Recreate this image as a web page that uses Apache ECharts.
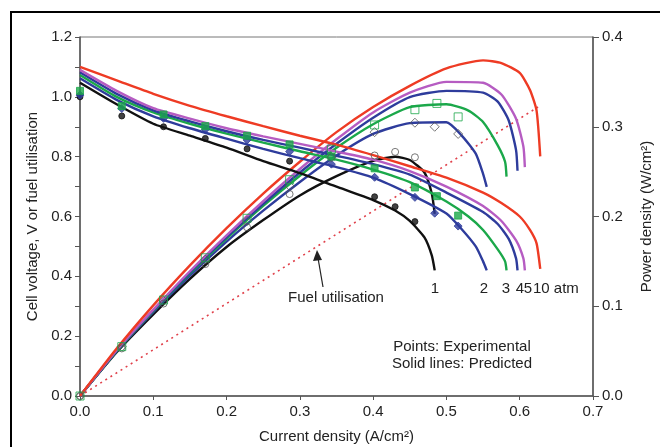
<!DOCTYPE html>
<html>
<head>
<meta charset="utf-8">
<title>Cell voltage / power density vs current density</title>
<style>
html, body { margin: 0; padding: 0; background: #fff; }
#myChart { width: 660px; height: 447px; }
</style>
</head>
<body>
<div id="myChart"></div>
<script src="https://cdn.jsdelivr.net/npm/echarts@6.0.0/dist/echarts.min.js"></script>
<script>
  // 预测曲线 (solid lines)  x: current density A/cm2
  var x1 = [0, 0.05, 0.1, 0.15, 0.2, 0.25, 0.3, 0.35, 0.4, 0.43, 0.45, 0.47, 0.48, 0.484]
  var v1 = [1.047, 0.975, 0.91, 0.87, 0.83, 0.785, 0.745, 0.70, 0.655, 0.62, 0.585, 0.53, 0.47, 0.42]
  var p1 = [0, 0.0488, 0.091, 0.1305, 0.166, 0.196, 0.2235, 0.245, 0.262, 0.2666, 0.263, 0.249, 0.2256, 0.203]

  var x2 = [0, 0.05, 0.1, 0.15, 0.2, 0.25, 0.3, 0.35, 0.4, 0.45, 0.5, 0.52, 0.54, 0.55, 0.555]
  var v2 = [1.062, 0.99, 0.935, 0.895, 0.86, 0.826, 0.795, 0.765, 0.73, 0.675, 0.61, 0.56, 0.5, 0.45, 0.42]
  var p2 = [0, 0.0495, 0.0935, 0.134, 0.172, 0.2065, 0.2385, 0.268, 0.292, 0.304, 0.305, 0.291, 0.27, 0.2475, 0.233]

  var x3 = [0, 0.05, 0.1, 0.15, 0.2, 0.25, 0.3, 0.35, 0.4, 0.45, 0.5, 0.53, 0.55, 0.57, 0.58, 0.582]
  var v3 = [1.073, 1.0, 0.948, 0.91, 0.877, 0.847, 0.818, 0.79, 0.757, 0.715, 0.65, 0.6, 0.555, 0.49, 0.45, 0.42]
  var p3 = [0, 0.05, 0.0948, 0.1365, 0.1754, 0.2118, 0.2454, 0.2765, 0.3028, 0.3218, 0.325, 0.318, 0.3053, 0.2793, 0.261, 0.2444]

  var x4 = [0, 0.05, 0.1, 0.15, 0.2, 0.25, 0.3, 0.35, 0.4, 0.45, 0.5, 0.55, 0.57, 0.585, 0.595, 0.597]
  var v4 = [1.082, 1.01, 0.955, 0.918, 0.885, 0.856, 0.83, 0.803, 0.775, 0.74, 0.68, 0.615, 0.575, 0.525, 0.46, 0.42]
  var p4 = [0, 0.0505, 0.0955, 0.1377, 0.177, 0.214, 0.249, 0.281, 0.31, 0.333, 0.34, 0.338, 0.328, 0.307, 0.274, 0.251]

  var x5 = [0, 0.05, 0.1, 0.15, 0.2, 0.25, 0.3, 0.35, 0.4, 0.45, 0.5, 0.55, 0.575, 0.595, 0.605, 0.607]
  var v5 = [1.09, 1.02, 0.962, 0.927, 0.895, 0.868, 0.843, 0.817, 0.79, 0.752, 0.70, 0.635, 0.585, 0.52, 0.46, 0.42]
  var p5 = [0, 0.051, 0.0962, 0.139, 0.179, 0.217, 0.2529, 0.286, 0.316, 0.338, 0.35, 0.349, 0.336, 0.309, 0.278, 0.255]

  var x10 = [0, 0.05, 0.1, 0.15, 0.2, 0.25, 0.3, 0.35, 0.4, 0.45, 0.5, 0.55, 0.575, 0.6, 0.614, 0.623, 0.628]
  var v10 = [1.10, 1.055, 1.01, 0.97, 0.935, 0.902, 0.87, 0.84, 0.805, 0.768, 0.73, 0.68, 0.645, 0.6, 0.555, 0.51, 0.425]
  var p10 = [0, 0.0528, 0.101, 0.1455, 0.187, 0.2255, 0.261, 0.294, 0.322, 0.3456, 0.365, 0.374, 0.371, 0.36, 0.341, 0.318, 0.267]

  // 燃料利用率 (dotted)
  var fuelX = [0, 0.625]
  var fuelY = [0, 0.966]

  // 实验点 (points)
  var ex1 = [0, 0.057, 0.114, 0.171, 0.228, 0.286, 0.402, 0.43, 0.457]
  var ev1 = [1.0, 0.936, 0.90, 0.861, 0.826, 0.785, 0.666, 0.633, 0.583]
  var ep1 = [0, 0.053, 0.103, 0.147, 0.188, 0.225, 0.268, 0.272, 0.266]

  var ex2 = [0, 0.057, 0.114, 0.171, 0.228, 0.286, 0.343, 0.402, 0.457, 0.484, 0.516]
  var ev2 = [1.006, 0.961, 0.928, 0.891, 0.856, 0.817, 0.775, 0.731, 0.664, 0.611, 0.568]
  var ep2 = [0, 0.055, 0.106, 0.152, 0.195, 0.234, 0.266, 0.294, 0.3045, 0.30, 0.292]

  var ex3 = [0, 0.057, 0.114, 0.171, 0.228, 0.286, 0.343, 0.402, 0.457, 0.487, 0.516]
  var ev3 = [1.02, 0.969, 0.941, 0.902, 0.87, 0.841, 0.80, 0.761, 0.697, 0.668, 0.603]
  var ep3 = [0, 0.055, 0.107, 0.154, 0.198, 0.241, 0.275, 0.302, 0.319, 0.326, 0.311]

  var leftTicks = [0, 0.2, 0.4, 0.6, 0.8, 1.0, 1.2]

  var RED = '#ee3b24'
  var MAG = '#b65cc2'
  var BLUE = '#2e3c9c'
  var GREEN = '#1ba84a'
  var BLACK = '#111111'
  var FONT = '"Liberation Sans", Arial, sans-serif'

  function pairs (xs, ys) {
    return xs.map(function (x, i) { return [x, ys[i]] })
  }

  function curve (xs, ys, color, axis) {
    return {
      type: 'line',
      yAxisIndex: axis,
      data: pairs(xs, ys),
      showSymbol: false,
      smooth: 0.2,
      lineStyle: { color: color, width: 2.4 },
      z: 2
    }
  }

  function points (xs, ys, axis, symbol, size, fill, border) {
    return {
      type: 'scatter',
      yAxisIndex: axis,
      data: pairs(xs, ys),
      symbol: symbol,
      symbolSize: size,
      itemStyle: { color: fill, borderColor: border, borderWidth: 1 },
      z: 5
    }
  }

  var series = [
    // 功率曲线 right axis
    curve(x1, p1, BLACK, 1),
    curve(x2, p2, BLUE, 1),
    curve(x3, p3, GREEN, 1),
    curve(x4, p4, BLUE, 1),
    curve(x5, p5, MAG, 1),
    curve(x10, p10, RED, 1),
    // 电压曲线 left axis
    curve(x1, v1, BLACK, 0),
    curve(x2, v2, BLUE, 0),
    curve(x3, v3, GREEN, 0),
    curve(x4, v4, BLUE, 0),
    curve(x5, v5, MAG, 0),
    curve(x10, v10, RED, 0),
    {
      type: 'line',
      yAxisIndex: 0,
      data: pairs(fuelX, fuelY),
      showSymbol: false,
      lineStyle: { color: '#e0404a', width: 1.6, type: [2, 4] },
      z: 1
    },
    points(ex1, ev1, 0, 'circle', 6, BLACK, BLACK),
    points(ex2, ev2, 0, 'diamond', 8, BLUE, BLUE),
    points(ex3, ev3, 0, 'rect', 7, GREEN, GREEN),
    points(ex1, ep1, 1, 'circle', 7, 'rgba(255,255,255,0)', '#555'),
    points(ex2, ep2, 1, 'diamond', 9, 'rgba(255,255,255,0)', '#555'),
    points(ex3, ep3, 1, 'rect', 8, 'rgba(255,255,255,0)', GREEN)
  ]

  var txt = { fill: '#222', fontSize: 15, fontFamily: FONT }
  function label (text, x, y, align) {
    return {
      type: 'text', x: x, y: y, z: 10,
      style: Object.assign({ text: text, align: align || 'center', verticalAlign: 'middle' }, txt)
    }
  }

  var option = {
    animation: false,
    backgroundColor: '#fff',
    grid: {
      left: 80, right: 67, top: 37, bottom: 51,
      outerBoundsMode: 'none', containLabel: false,
      show: true, borderColor: '#777', borderWidth: 1
    },
    xAxis: {
      type: 'value', min: 0, max: 0.7, interval: 0.1,
      name: 'Current density (A/cm²)', nameLocation: 'middle', nameGap: 33,
      nameTextStyle: { color: '#222', fontSize: 15, fontFamily: FONT },
      axisLine: { lineStyle: { color: '#555', width: 1.5 } },
      axisTick: { length: 4, lineStyle: { color: '#555' } },
      axisLabel: { color: '#222', fontSize: 15, fontFamily: FONT, margin: 8, formatter: function (v) { return v.toFixed(1) } },
      splitLine: { show: false }
    },
    yAxis: [
      {
        type: 'value', min: 0, max: 1.2, interval: 0.1,
        name: 'Cell voltage, V or fuel utilisation', nameLocation: 'middle', nameGap: 38,
        nameTextStyle: { color: '#222', fontSize: 15, fontFamily: FONT },
        axisLine: { show: true, lineStyle: { color: '#555', width: 1.5 } },
        axisTick: { show: true, length: 5, lineStyle: { color: '#555' } },
        axisLabel: {
          color: '#222', fontSize: 15, fontFamily: FONT, margin: 8,
          formatter: function (v) {
            var hit = leftTicks.some(function (t) { return Math.abs(t - v) < 1e-6 })
            return hit ? v.toFixed(1) : ''
          }
        },
        splitLine: { show: false }
      },
      {
        type: 'value', min: 0, max: 0.4, interval: 0.1, position: 'right',
        name: 'Power density (W/cm²)', nameLocation: 'middle', nameGap: 46, nameRotate: 90,
        nameTextStyle: { color: '#222', fontSize: 15, fontFamily: FONT },
        axisLine: { show: true, lineStyle: { color: '#555', width: 1.5 } },
        axisTick: { show: true, length: 6, lineStyle: { color: '#555' } },
        axisLabel: { color: '#222', fontSize: 15, fontFamily: FONT, margin: 9, formatter: function (v) { return v.toFixed(1) } },
        splitLine: { show: false }
      }
    ],
    series: series,
    graphic: [
      // 外框
      { type: 'rect', shape: { x: 11, y: 12, width: 700, height: 500 }, style: { fill: 'none', stroke: '#000', lineWidth: 2 }, z: 0 },
      label('Fuel utilisation', 336, 298),
      { type: 'line', shape: { x1: 323, y1: 287, x2: 318, y2: 258 }, style: { stroke: '#222', lineWidth: 1.2 }, z: 10 },
      { type: 'polygon', shape: { points: [[317, 250], [313, 261], [322, 260]] }, style: { fill: '#222' }, z: 10 },
      label('1', 435, 289),
      label('2', 484, 289),
      label('3', 506, 289),
      label('4', 520, 289),
      label('5', 528, 289),
      label('10 atm', 533, 289, 'left'),
      label('Points: Experimental', 462, 347),
      label('Solid lines: Predicted', 462, 364)
    ]
  }

  var myChart = echarts.init(document.getElementById('myChart'))
  myChart.setOption(option)
</script>
</body>
</html>
